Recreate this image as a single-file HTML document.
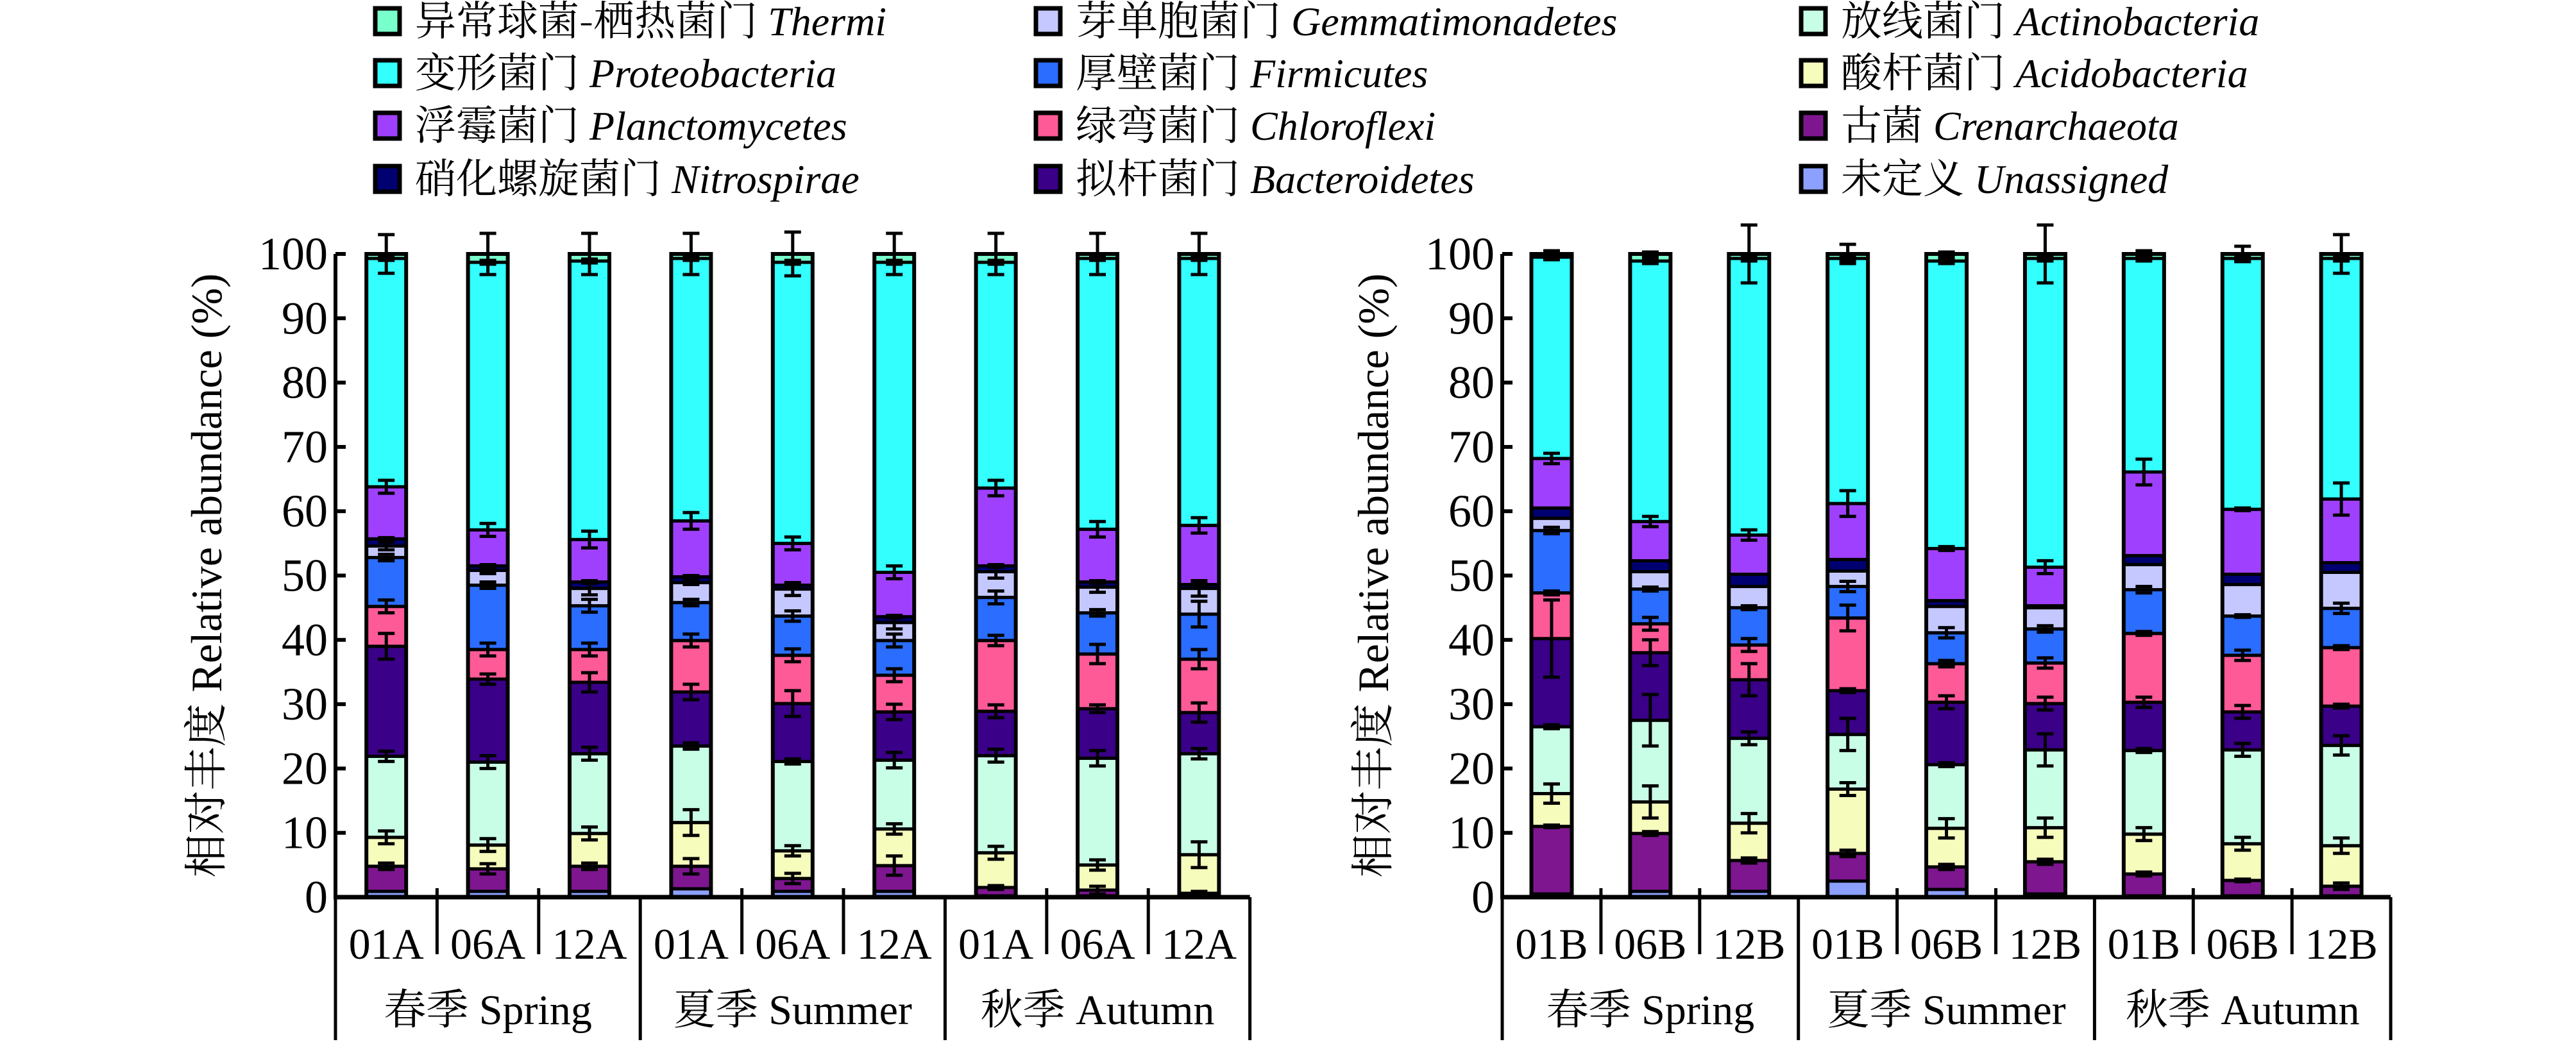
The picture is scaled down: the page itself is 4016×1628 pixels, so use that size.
<!DOCTYPE html>
<html><head><meta charset="utf-8"><style>
html,body{margin:0;padding:0;background:#fff;font-family:"Liberation Serif","Noto Serif CJK SC",serif;}
svg{display:block;}
.lat{font-family:"Liberation Serif",serif;}
.cjk{font-family:"Noto Serif CJK SC","Liberation Serif",serif;}
</style></head><body>
<svg id="chart" width="4016" height="1628" viewBox="0 0 4016 1628" xmlns="http://www.w3.org/2000/svg"></svg>
<script>
// ---- data ----
const seriesNames = ["Unassigned","Crenarchaeota","Acidobacteria","Actinobacteria","Bacteroidetes","Chloroflexi","Firmicutes","Gemmatimonadetes","Nitrospirae","Planctomycetes","Proteobacteria","Thermi"];
const seriesColors = ["#8ca0ff","#7e1690","#f6fcbc","#c8fde6","#3a0088","#ff5a98","#2a6dff","#c4c8ff","#000070","#a040ff","#33ffff","#78ffcc"];
const sampleLabelsA = ["01A","06A","12A","01A","06A","12A","01A","06A","12A"];
const sampleLabelsB = ["01B","06B","12B","01B","06B","12B","01B","06B","12B"];
const seasonCN = ["春季","夏季","秋季"];
const seasonEN = ["Spring","Summer","Autumn"];
const yTicks = [0,10,20,30,40,50,60,70,80,90,100];

const aUnassigned = [0.9,0.9,0.9,1.3,0.9,0.9,0.2,0.2,0.2];
const aCren = [3.9,3.5,3.9,3.5,2.0,4.0,1.3,0.9,0.4];
const aAcido = [4.5,3.7,5.1,6.8,4.3,5.7,5.4,3.9,6.0];
const aActino = [12.6,12.9,12.4,11.9,13.9,10.7,15.1,16.6,15.7];
const aBactero = [17.1,12.9,11.1,8.4,9.0,7.5,6.9,7.7,6.4];
const aChloro = [6.2,4.6,5.1,8.0,7.5,5.7,11.0,8.5,8.3];
const aFirm = [7.6,10.0,6.8,5.9,6.1,5.4,6.7,6.4,7.0];
const aGemm = [1.8,2.3,2.7,3.1,4.2,2.8,4.0,4.0,4.0];
const aNitro = [1.1,0.7,1.0,0.9,0.6,0.9,0.9,0.8,0.6];
const aPlancto = [8.1,5.6,6.6,8.7,6.5,6.9,12.1,8.2,9.2];
const aProteo = [35.5,41.6,43.3,40.8,43.7,48.2,35.1,42.1,41.5];
const aThermi = [0.7,1.3,1.1,0.7,1.3,1.3,1.3,0.7,0.7];
const aErrUnassigned = [0,0,0,0,0,0,0,0,0];
const aErrCren = [0.5,0.8,0.5,1.2,0.8,1.5,0.3,0.6,0.3];
const aErrAcido = [1,1,1,2,0.8,0.8,1,0.8,2];
const aErrActino = [0.8,1,1,0.5,0.4,1.2,1,1.2,0.8];
const aErrBactero = [2,0.8,1.5,1.2,2,1.2,1,0.6,1.5];
const aErrChloro = [1,1,1,1,1,1,0.8,1.5,1.5];
const aErrFirm = [0.5,0.5,1,0.5,0.8,1,1,0.5,2];
const aErrGemm = [0.6,0.5,1,0.3,1,1,1,0.8,1.2];
const aErrNitro = [0.2,0.2,0.2,0.2,0.2,0.2,0.2,0.2,0.2];
const aErrPlancto = [1,1,1.3,1.3,1,1,1.2,1.2,1.2];
const aErrProteo = [0.3,0.3,0.3,0.3,0.3,0.3,0.3,0.3,0.3];
const aErrThermi = [3,3.2,3.2,3.2,3.4,3.2,3.2,3.2,3.2];

const bUnassigned = [0.5,0.9,0.9,2.5,1.2,0.5,0.2,0.2,0.2];
const bCren = [10.5,9.0,4.8,4.3,3.5,5.0,3.4,2.4,1.5];
const bAcido = [5.1,4.9,5.8,10.0,6.0,5.3,6.2,5.7,6.3];
const bActino = [10.4,12.7,13.2,8.5,9.9,12.1,13.0,14.6,15.6];
const bBactero = [13.7,10.5,9.1,6.8,9.7,7.2,7.5,5.9,6.1];
const bChloro = [7.1,4.5,5.4,11.3,6.0,6.3,10.7,8.8,9.1];
const bFirm = [9.7,5.4,5.8,4.9,4.8,5.3,6.8,6.1,6.1];
const bGemm = [1.9,2.7,3.3,2.4,4.1,3.3,3.9,4.9,5.6];
const bNitro = [1.6,1.7,1.9,1.8,0.9,0.3,1.4,1.6,1.5];
const bPlancto = [7.7,6.1,6.1,8.7,8.1,6.0,13.0,10.1,9.9];
const bProteo = [31.3,40.5,43.0,38.1,44.7,48.0,33.2,39.0,37.4];
const bThermi = [0.5,1.1,0.7,0.7,1.1,0.7,0.7,0.7,0.7];
const bErrUnassigned = [0,0,0,0,0,0,0,0,0];
const bErrCren = [0.2,0.3,0.4,0.5,0.4,0.4,0.3,0.2,0.5];
const bErrAcido = [1.5,2.5,1.5,1,1.5,1.5,1,1,1.2];
const bErrActino = [0.3,4,1,2.5,0.3,2.5,0.3,1,1.5];
const bErrBactero = [6,2,2.5,0.3,1,1,0.8,1,0.3];
const bErrChloro = [0.3,1,1,2,0.5,0.8,0.3,0.8,0.3];
const bErrFirm = [0.5,0.3,0.3,0.8,0.8,0.5,0.5,0.2,0.8];
const bErrGemm = [0,0,0,0,0,0,0,0,0];
const bErrNitro = [0,0,0,0,0,0,0,0,0];
const bErrPlancto = [0.8,0.8,0.8,2,0.3,1,2,0.2,2.5];
const bErrProteo = [0.4,0.4,0.4,0.4,0.4,0.4,0.4,0.4,0.4];
const bErrThermi = [0.5,0.3,4.5,1.5,0.3,4.5,0.5,1.2,3];

const legendOrder = [11,7,3,10,6,2,9,5,1,8,4,0];
const legendCN = {Thermi:"异常球菌-栖热菌门",Gemmatimonadetes:"芽单胞菌门",Actinobacteria:"放线菌门",Proteobacteria:"变形菌门",Firmicutes:"厚壁菌门",Acidobacteria:"酸杆菌门",Planctomycetes:"浮霉菌门",Chloroflexi:"绿弯菌门",Crenarchaeota:"古菌",Nitrospirae:"硝化螺旋菌门",Bacteroidetes:"拟杆菌门",Unassigned:"未定义"};

const NS="http://www.w3.org/2000/svg";
const LAT='"Liberation Serif", serif';
const CJK='"Noto Serif CJK SC", "Liberation Serif", serif';
const svg=document.getElementById('chart');
function mk(tag,attrs,parent){const e=document.createElementNS(NS,tag);for(const k in attrs)e.setAttribute(k,attrs[k]);(parent||svg).appendChild(e);return e;}
function txt(attrs,parent,parts){
  const t=mk('text',attrs,parent);
  t.setAttribute('style','font-family:'+LAT+';fill:#000');
  parts.forEach(p=>{
    const s=mk('tspan',{},t);
    s.setAttribute('style','font-family:'+(p.cjk?CJK:LAT)+(p.it?';font-style:italic':''));
    s.textContent=p.s;
  });
  return t;
}

// ---- legend ----
const legCols=[582,1612,2805], legRows=[33,114,196,279];
const legG=mk('g',{});


legendOrder.forEach((si,i)=>{
  const col=i%3,row=Math.floor(i/3);
  const g=mk('g',{},legG);
  
  
  const x=legCols[col],y=legRows[row];
  mk('rect',{x:x+3,y:y-20,width:38,height:40,fill:seriesColors[si],stroke:'#000','stroke-width':7},g);
  txt({x:x+65,y:y+22,'font-size':64},g,[{s:legendCN[seriesNames[si]],cjk:true},{s:' '},{s:seriesNames[si],it:true}]);
});

function drawChart(cfg){
  const {x0,cellW,barW,y0,y100,vals,errs,labels,name}=cfg;
  const g=mk('g',{});
  
  
  const ys=v=>y0+(y100-y0)*v/100;
  const xC=i=>x0+cellW*(i+0.5);
  const ax=mk('line',{x1:x0,y1:ys(0),x2:x0,y2:ys(100),stroke:'#000','stroke-width':6},g);
  
  
  yTicks.forEach(t=>{
    mk('line',{x1:x0,y1:ys(t),x2:x0+16,y2:ys(t),stroke:'#000','stroke-width':6},g);
    const tl=txt({x:x0-12,y:ys(t)+24,'font-size':72,'text-anchor':'end'},g,[{s:String(t)}]);
    
    
  });
  const yt=txt({x:0,y:0,'font-size':68,'text-anchor':'middle',transform:`translate(${x0-178},${ys(50)}) rotate(-90)`},g,[{s:'相对丰度',cjk:true},{s:' Relative abundance (%)'}]);
  
  
  for(let i=0;i<labels.length;i++){
    const bg=mk('g',{},g);
    
    
    let cum=0;
    const tops=[];
    for(let s=0;s<vals.length;s++){
      const v=vals[s][i];
      const r=mk('rect',{x:xC(i)-barW/2,y:ys(cum+v),width:barW,height:Math.max(0,ys(cum)-ys(cum+v)),fill:seriesColors[s],stroke:'#000','stroke-width':5},bg);
      
      
      cum+=v;tops.push(cum);
    }
    mk('rect',{x:xC(i)-barW/2,y:ys(cum),width:barW,height:ys(0)-ys(cum),fill:'none',stroke:'#000','stroke-width':6},bg);
    for(let s=0;s<vals.length;s++){
      const e=errs[s][i]; if(!e) continue;
      const t=tops[s];
      const eg=mk('g',{stroke:'#000','stroke-width':5},bg);
      
      
      mk('line',{x1:xC(i),y1:ys(t-e),x2:xC(i),y2:ys(t+e)},eg);
      mk('line',{x1:xC(i)-13,y1:ys(t-e),x2:xC(i)+13,y2:ys(t-e)},eg);
      mk('line',{x1:xC(i)-13,y1:ys(t+e),x2:xC(i)+13,y2:ys(t+e)},eg);
    }
  }
  const xEnd=x0+cellW*labels.length;
  const xa=mk('line',{x1:x0-3,y1:y0,x2:xEnd,y2:y0,stroke:'#000','stroke-width':7},g);
  
  
  for(let k=0;k<=labels.length;k++){
    const x=x0+cellW*k, major=(k%3===0);
    mk('line',{x1:x,y1:major?y0:y0-14,x2:x,y2:major?1622:1488,stroke:'#000','stroke-width':5},g);
  }
  labels.forEach((l,i)=>{
    const t=txt({x:xC(i),y:1495,'font-size':68,'text-anchor':'middle'},g,[{s:l}]);
    
    
  });
  seasonCN.forEach((l,k)=>{
    const t=txt({x:x0+cellW*(3*k+1.5),y:1597,'font-size':66,'text-anchor':'middle'},g,[{s:l,cjk:true},{s:' '+seasonEN[k]}]);
    
    
  });
}

drawChart({name:'chart-a',x0:523,cellW:158.4,barW:62,y0:1399,y100:396,labels:sampleLabelsA,
  vals:[aUnassigned,aCren,aAcido,aActino,aBactero,aChloro,aFirm,aGemm,aNitro,aPlancto,aProteo,aThermi],
  errs:[aErrUnassigned,aErrCren,aErrAcido,aErrActino,aErrBactero,aErrChloro,aErrFirm,aErrGemm,aErrNitro,aErrPlancto,aErrProteo,aErrThermi]});
drawChart({name:'chart-b',x0:2342,cellW:153.9,barW:63,y0:1399,y100:396,labels:sampleLabelsB,
  vals:[bUnassigned,bCren,bAcido,bActino,bBactero,bChloro,bFirm,bGemm,bNitro,bPlancto,bProteo,bThermi],
  errs:[bErrUnassigned,bErrCren,bErrAcido,bErrActino,bErrBactero,bErrChloro,bErrFirm,bErrGemm,bErrNitro,bErrPlancto,bErrProteo,bErrThermi]});
</script>
</body></html>
